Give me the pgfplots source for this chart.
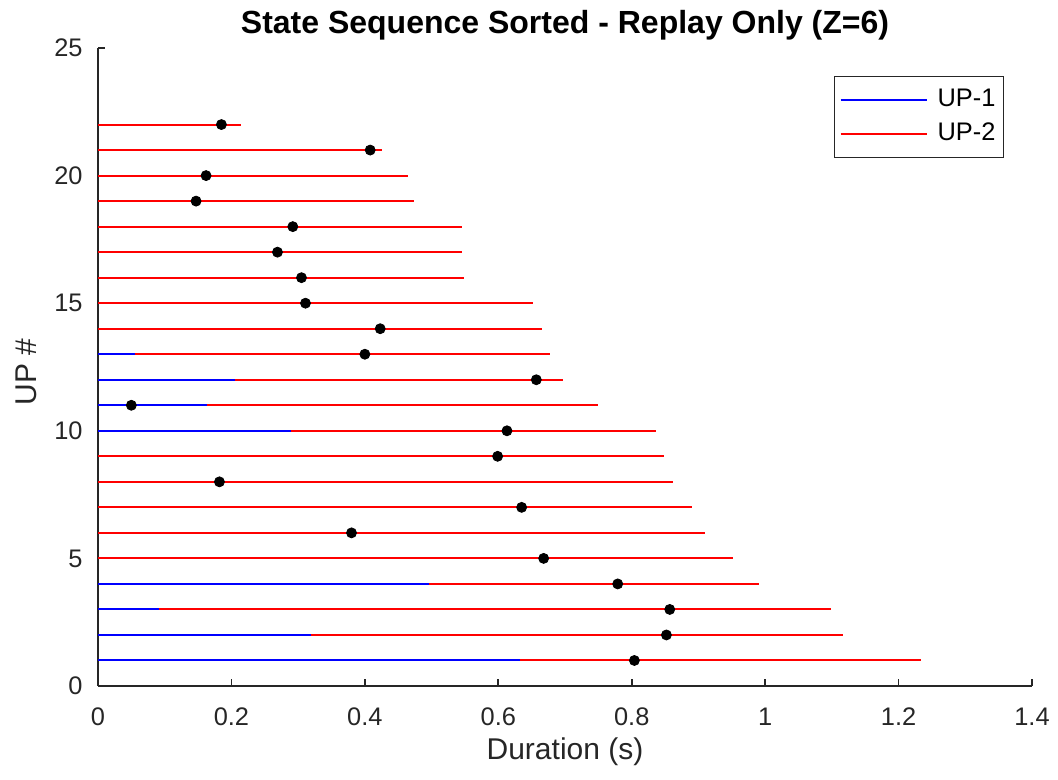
\documentclass[border=0pt]{standalone}
\usepackage{fontspec}
\setmainfont{Liberation Sans}
\usepackage{pgfplots}
\pgfplotsset{compat=1.18}
\usepackage{pgfplotstable}

\definecolor{axgray}{RGB}{38,38,38}

% y = UP index, b = end of UP-1 part, e = end of UP-2 part, d = marked time
\pgfplotstableread{
y  b      e      d
1  0.633  1.233  0.804
2  0.319  1.117  0.852
3  0.092  1.098  0.857
4  0.496  0.991  0.779
5  0      0.952  0.668
6  0      0.910  0.380
7  0      0.891  0.635
8  0      0.862  0.182
9  0      0.849  0.599
10 0.289  0.836  0.613
11 0.163  0.749  0.050
12 0.206  0.697  0.657
13 0.056  0.678  0.400
14 0      0.665  0.423
15 0      0.652  0.311
16 0      0.548  0.305
17 0      0.545  0.269
18 0      0.545  0.292
19 0      0.474  0.147
20 0      0.465  0.162
21 0      0.425  0.408
22 0      0.215  0.185
}\states

\begin{document}
\begin{tikzpicture}
\begin{axis}[
  scale only axis,
  width=467pt, height=319pt,
  xmin=0, xmax=1.4, ymin=0, ymax=25,
  axis x line*=bottom, axis y line*=left,
  axis line style={axgray, line width=0.8pt, -},
  xtick={0,0.2,0.4,0.6,0.8,1,1.2,1.4},
  ytick={0,5,10,15,20,25},
  tick align=inside,
  major tick length=3.5pt,
  tick style={axgray, line width=0.8pt},
  /pgf/number format/assume math mode=true,
  tick label style={font=\fontsize{12.7}{14}\selectfont, text=axgray},
  xticklabel style={anchor=center, yshift=-15.5pt},
  yticklabel style={anchor=east, inner sep=0pt, xshift=-7.5pt},
  label style={font=\fontsize{15}{17}\selectfont, text=axgray},
  xlabel={Duration (s)},
  xlabel style={at={(axis description cs:0.5,0)}, anchor=center, yshift=-33pt},
  ylabel={UP \#},
  ylabel style={at={(axis description cs:0,0.5)}, anchor=center, yshift=36pt, xshift=-2.5pt},
  title={State Sequence Sorted - Replay Only (Z=6)},
  title style={at={(axis description cs:0.5,1)}, anchor=center, yshift=5.5pt,
               font=\bfseries\fontsize{16}{18}\selectfont},
  legend cell align=left,
  legend image code/.code={\draw[#1] (0pt,0pt) -- (43pt,0pt); \path (46.5pt,0pt);},
  legend style={at={(rel axis cs:1,1)}, anchor=north east,
                xshift=-13.85pt, yshift=-13.85pt,
                draw=axgray, line width=0.6pt,
                font=\fontsize{12.7}{14}\selectfont,
                inner xsep=2.5pt, inner ysep=4.9pt, row sep=3pt,
                nodes={inner xsep=1.6pt, inner ysep=1pt, text height=9pt, text depth=3pt}},
]
\coordinate (sw) at (rel axis cs:0,0);

% UP-2 runs from 0 to e, UP-1 is drawn over it from 0 to b
\addplot[xcomb, red, line width=1pt, no markers, forget plot] table[x=e, y=y] {\states};
\addplot[xcomb, blue, line width=1pt, no markers, forget plot] table[x=b, y=y] {\states};
\addplot[only marks, mark=*, mark size=2.5pt, black, forget plot] table[x=d, y=y] {\states};

\addlegendimage{blue, line width=0.8pt}
\addlegendentry{UP-1}
\addlegendimage{red, line width=0.8pt}
\addlegendentry{UP-2}
\end{axis}
\pgfresetboundingbox
\path[use as bounding box] ([shift={(-49pt,-47pt)}]sw) rectangle ([shift={(480pt,343pt)}]sw);
\end{tikzpicture}
\end{document}
